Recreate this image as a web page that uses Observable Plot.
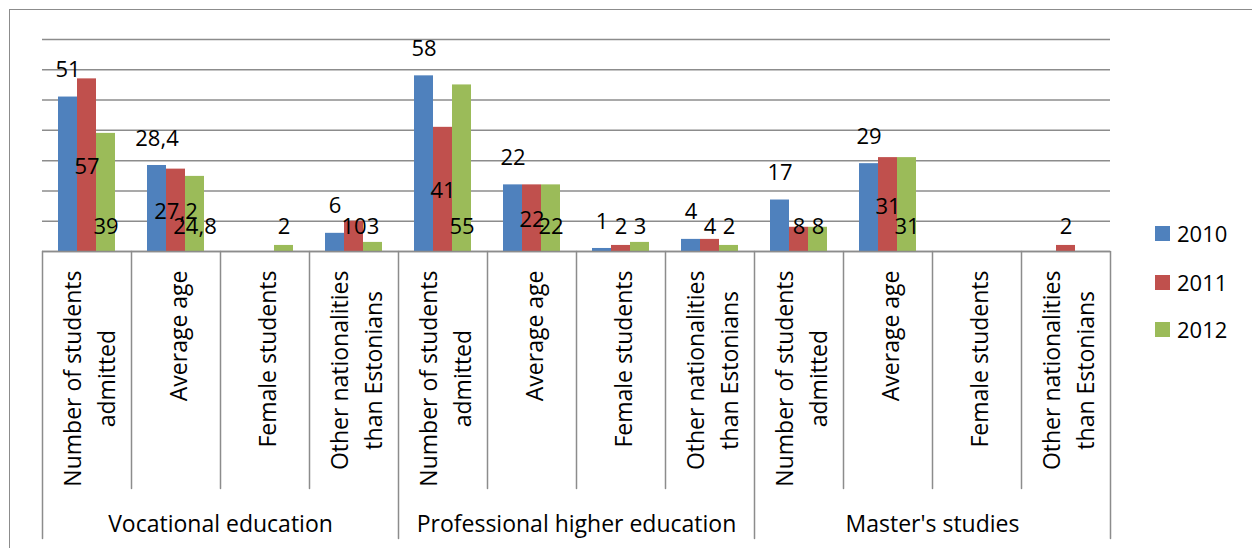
<!DOCTYPE html>
<html><head><meta charset="utf-8">
<script src="https://cdn.jsdelivr.net/npm/d3@7"></script>
<script src="https://cdn.jsdelivr.net/npm/@observablehq/plot@0.6"></script>
<style>
html,body{margin:0;padding:0;background:#fff;overflow:hidden;}
#wrap{position:relative;width:1252px;height:548px;overflow:hidden;}
#border{position:absolute;left:9px;top:9px;width:1400px;height:800px;border:1.5px solid #8c8c8c;box-sizing:border-box;}
#chart{position:absolute;left:0;top:0;}
#legend{position:absolute;left:1155px;top:0;font-family:'Open Sans',sans-serif;font-size:22px;color:#000;}
.item{position:absolute;left:0;display:flex;align-items:center;white-space:nowrap;height:30px;}
.sw{width:15px;height:15px;margin-right:7px;}
</style></head>
<body><div id="wrap"><div id="border"></div><div id="chart"></div><div id="legend"></div></div>
<script>
const groups = ["Vocational education", "Professional higher education", "Master's studies"];
const metrics = ["Number of students\nadmitted", "Average age", "Female students", "Other nationalities\nthan Estonians"];
const years = ["2010", "2011", "2012"];
const values2010 = [51, 28.4, null, 6, 58, 22, 1, 4, 17, 29, null, null];
const values2011 = [57, 27.2, null, 10, 41, 22, 2, 4, 8, 31, null, 2];
const values2012 = [39, 24.8, 2, 3, 55, 22, 3, 2, 8, 31, null, null];
const colors = ["#4F81BD", "#C0504D", "#9BBB59"];

const series = [values2010, values2011, values2012];
const keys = [];
groups.forEach((g, gi) => metrics.forEach((m, mi) => keys.push(gi + "-" + mi)));
const table = [];
keys.forEach((k, i) => years.forEach((y, yi) => {
  const v = series[yi][i];
  if (v != null) table.push({key: k, year: y, value: v, metric: i % 4, group: Math.floor(i / 4)});
}));

const W = 1252, H = 548, mL = 39, mR = 140, mT = 39, mB = 297;
const gray = "#8c8c8c";
const font = "'Open Sans', sans-serif";
const axisSize = 23, labelSize = 22;
const fmt = v => String(v).replace(".", ",");
const ctx = document.createElement("canvas").getContext("2d");
ctx.font = axisSize + "px 'Open Sans'";
const longest = s => Math.max(...s.split("\n").map(t => ctx.measureText(t).width));
const lineShape = {draw(context, l) { context.moveTo(0, 0); context.lineTo(0, -l); }};

const metricMarks = metrics.map((m, mi) => Plot.text(groups.map((g, gi) => keys[gi * 4 + mi]), {
  fx: d => d, frameAnchor: "bottom", text: () => m, rotate: -90, textAnchor: "middle", lineAnchor: "middle",
  lineHeight: 1.48, fontSize: axisSize, dy: 19 + longest(m) / 2, fill: "#000"
}));

const innerEdges = keys.filter((k, i) => i % 4 !== 0);
const groupEdges = keys.filter((k, i) => i % 4 === 0);

const chart = Plot.plot({
  width: W, height: H, marginLeft: mL, marginRight: mR, marginTop: mT, marginBottom: mB,
  style: {fontFamily: font, fontSize: labelSize + "px", background: "transparent", color: "#000", overflow: "visible"},
  fx: {domain: keys, padding: 0, axis: null},
  x: {domain: years, paddingInner: 0, paddingOuter: 0.75, axis: null},
  y: {domain: [0, 70], axis: null},
  color: {domain: years, range: colors},
  marks: [
    Plot.gridY({ticks: 7, stroke: gray, strokeOpacity: 1, strokeWidth: 1.5}),
    Plot.barY(table, {fx: "key", x: "year", y: "value", fill: "year"}),
    Plot.ruleY([0], {stroke: gray, strokeWidth: 1.5}),
    Plot.text(table.filter(d => d.year === "2010"), {fx: "key", x: "year", y: "value", text: d => fmt(d.value), dy: -27, lineAnchor: "middle", fontSize: labelSize, fill: "#000"}),
    Plot.text(table.filter(d => d.year === "2011"), {fx: "key", x: "year", y: d => Math.max(d.value / 2, 8.9), text: d => fmt(d.value), dy: 2, lineAnchor: "middle", fontSize: labelSize, fill: "#000"}),
    Plot.text(table.filter(d => d.year === "2012"), {fx: "key", x: "year", y: d => 0, text: d => fmt(d.value), dy: -25, lineAnchor: "middle", fontSize: labelSize, fill: "#000"}),
    Plot.vector(innerEdges, {fx: d => d, frameAnchor: "bottom-left", length: 237, rotate: 180, anchor: "start", stroke: gray, strokeWidth: 1.5, shape: lineShape}),
    Plot.vector(groupEdges, {fx: d => d, frameAnchor: "bottom-left", length: 287, rotate: 180, anchor: "start", stroke: gray, strokeWidth: 1.5, shape: lineShape}),
    Plot.vector([keys[keys.length - 1]], {fx: d => d, frameAnchor: "bottom-right", length: 287, rotate: 180, anchor: "start", stroke: gray, strokeWidth: 1.5, shape: lineShape}),
    ...metricMarks,
    Plot.text([keys[1], keys[5], keys[9]], {fx: d => d, frameAnchor: "bottom-right", text: (d, i) => groups[i], textAnchor: "middle", lineAnchor: "middle", dy: 273, fontSize: axisSize, fill: "#000"})
  ]
});
document.getElementById("chart").appendChild(chart);

const legend = document.getElementById("legend");
const rowCenters = [233, 282, 329];
years.forEach((y, i) => {
  const item = document.createElement("div");
  item.className = "item";
  item.style.top = (rowCenters[i] - 15) + "px";
  item.innerHTML = `<span class="sw" style="background:${colors[i]}"></span><span>${y}</span>`;
  legend.appendChild(item);
});
</script>
</body></html>
